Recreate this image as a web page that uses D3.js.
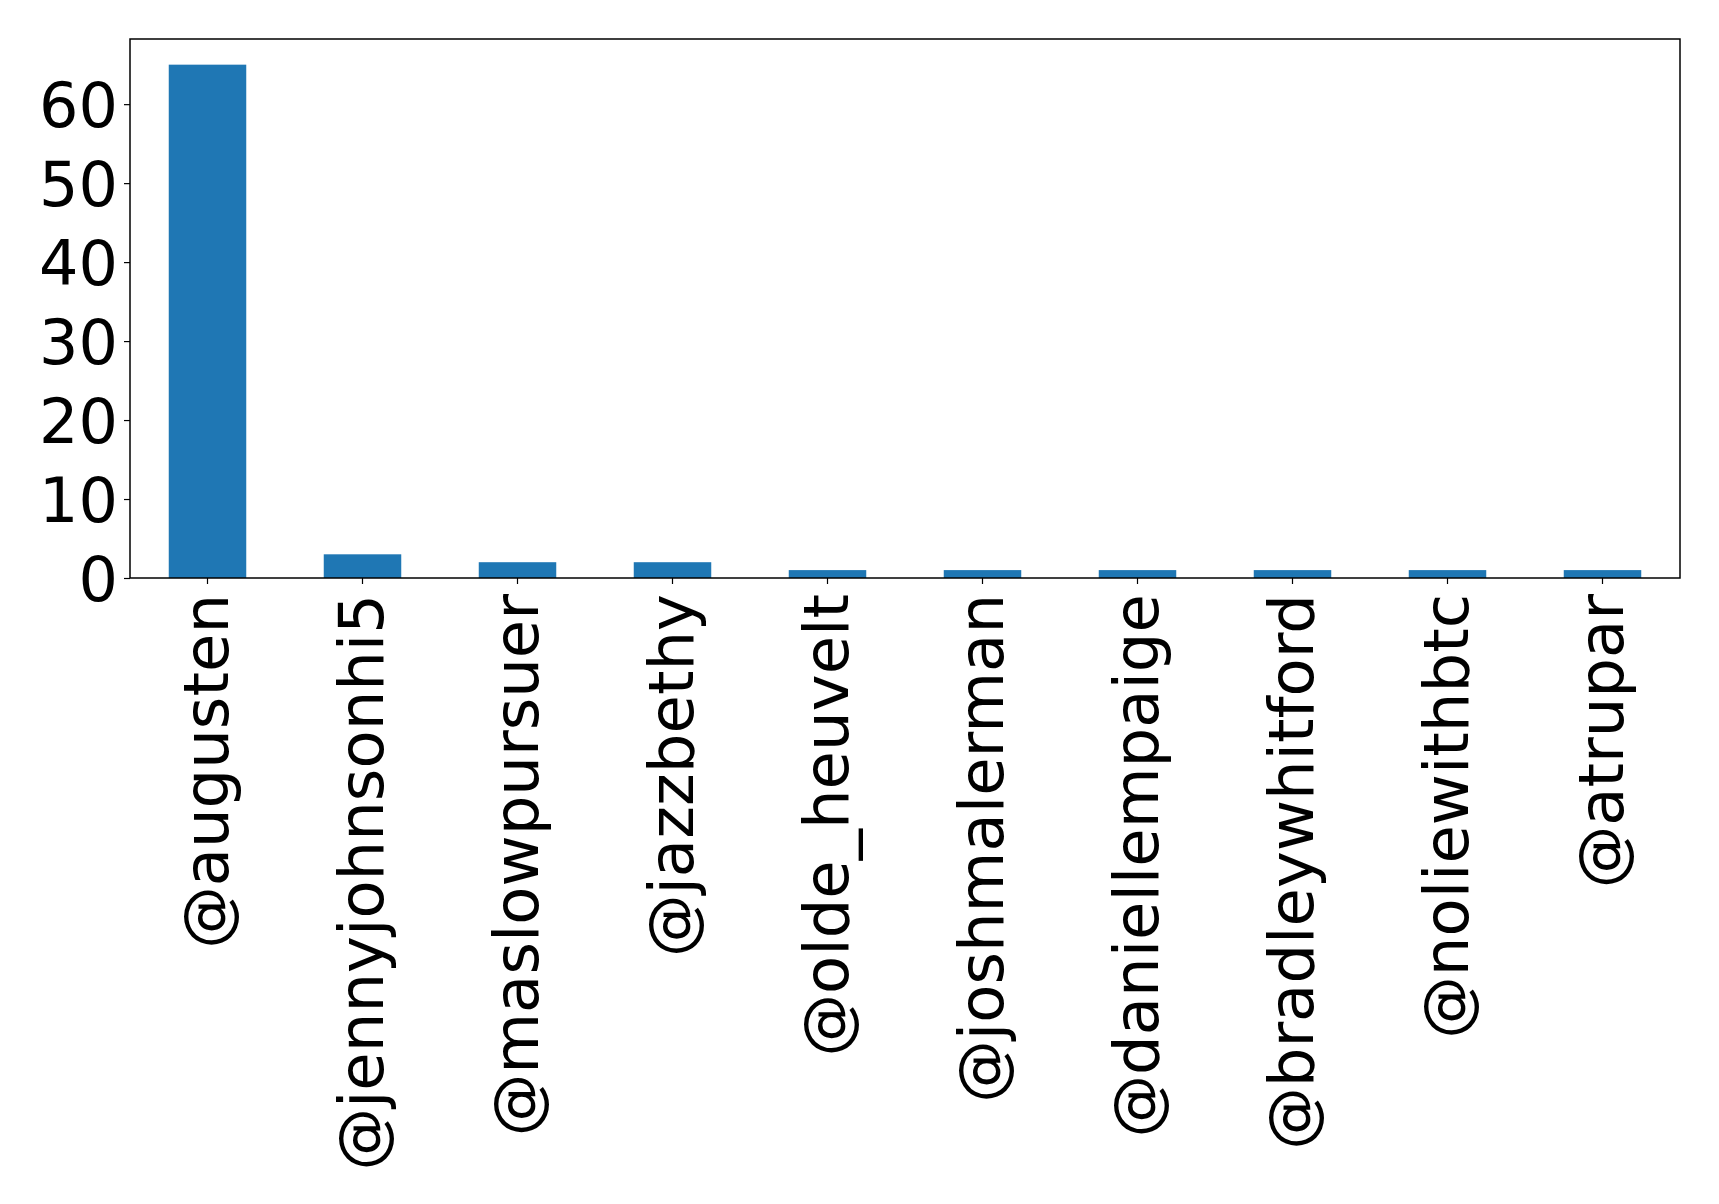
<!DOCTYPE html>
<html><head><meta charset="utf-8">
<script src="https://cdn.jsdelivr.net/npm/d3@7"></script>
<style>body{margin:0;background:#fff}</style>
</head><body>
<script>
const categories = ["@augusten","@jennyjohnsonhi5","@maslowpursuer","@jazzbethy","@olde_heuvelt","@joshmalerman","@daniellempaige","@bradleywhitford","@noliewithbtc","@atrupar"];
const values = [65,3,2,2,1,1,1,1,1,1];
const yTicks = [0,10,20,30,40,50,60];

const W=1719,H=1204;
const m={l:130,r:1680,t:39,b:578};
const svg=d3.select("body").append("svg").attr("width",W).attr("height",H);
const x=d3.scaleBand().domain(categories).range([m.l,m.r]).paddingInner(0.5).paddingOuter(0.25);
const y=d3.scaleLinear().domain([0,d3.max(values)*1.05]).range([m.b,m.t]);
const font="DejaVu Sans";
svg.append("g").selectAll("rect").data(values).join("rect")
 .attr("x",(d,i)=>x(categories[i])).attr("width",x.bandwidth())
 .attr("y",d=>y(d)).attr("height",d=>m.b-y(d)).attr("fill","#1f77b4");
const ya=svg.append("g").attr("transform",`translate(${m.l},0)`)
 .call(d3.axisLeft(y).tickValues(yTicks).tickSize(6).tickPadding(6).tickSizeOuter(0));
ya.select(".domain").remove();
ya.selectAll("text").attr("font-family",font).attr("font-size",62).attr("fill","#000").attr("dy","0.36em");
ya.selectAll("line").attr("stroke","#000").attr("stroke-width",1.2);
const xa=svg.append("g").attr("transform",`translate(0,${m.b})`)
 .call(d3.axisBottom(x).tickSize(6).tickPadding(0).tickSizeOuter(0));
xa.select(".domain").remove();
xa.selectAll("line").attr("stroke","#000").attr("stroke-width",1.2);
xa.selectAll("text").attr("font-family",font).attr("font-size",62.5).attr("fill","#000")
 .attr("text-anchor","end").attr("transform","translate(0,16) rotate(-90)").attr("x",0).attr("y",0).attr("dy","0.32em");
svg.append("rect").attr("x",m.l).attr("y",m.t).attr("width",m.r-m.l).attr("height",m.b-m.t)
 .attr("fill","none").attr("stroke","#000").attr("stroke-width",1.5);
</script>
</body></html>
